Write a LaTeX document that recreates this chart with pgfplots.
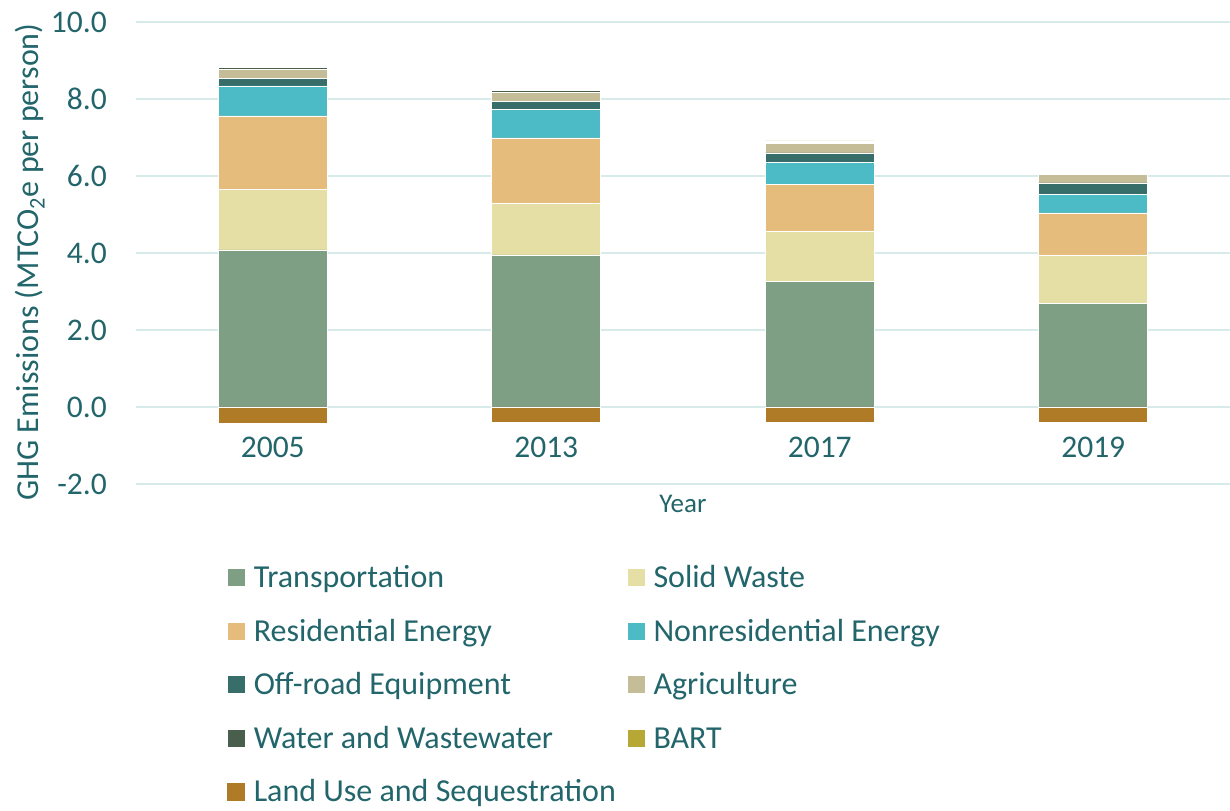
\documentclass[border=0pt]{standalone}
\usepackage{fontspec}
\setmainfont{Carlito}
\usepackage{pgfplots}
\pgfplotsset{compat=1.18}
\definecolor{txt}{HTML}{22656A}
\definecolor{gridc}{HTML}{D8EBEB}
\definecolor{transp}{HTML}{7F9F84}
\definecolor{solid}{HTML}{E5DFA5}
\definecolor{resid}{HTML}{E5BC7B}
\definecolor{nonres}{HTML}{4DBBC5}
\definecolor{offroad}{HTML}{386E6A}
\definecolor{agri}{HTML}{C5BD98}
\definecolor{water}{HTML}{4A5E4E}
\definecolor{bart}{HTML}{B7A734}
\definecolor{landuse}{HTML}{B07B26}

\pgfplotsset{
  common/.style={
    at={(136bp,327bp)}, anchor=south west,
    scale only axis, width=1094bp, height=462bp,
    xmin=-0.5, xmax=3.5, ymin=-2, ymax=10,
    bar width=109bp,
  },
  sq/.style={legend image code/.code={\fill[##1] (0bp,1bp) rectangle (18bp,19bp);}},
}
\newcommand{\cw}[1]{\makebox[373bp][l]{#1}}

\begin{document}
\begin{tikzpicture}
\begin{axis}[common,
  ybar stacked,
  axis line style={draw=none}, major tick length=0,
  xtick={0,1,2,3}, xticklabels={2005,2013,2017,2019},
  ytick={-2,0,2,4,6,8,10},
  yticklabels={-2.0,0.0,2.0,4.0,6.0,8.0,10.0},
  tick label style={font=\fontsize{31.5bp}{36bp}\selectfont, text=txt, inner sep=0},
  yticklabel style={anchor=east, xshift=-29bp},
  xticklabel style={anchor=center, yshift=37bp},
  ymajorgrids, grid style={color=gridc, line width=1.5bp},
  ylabel={GHG Emissions (MTCO\textsubscript{2}e per person)},
  every axis y label/.style={at={(axis description cs:-0.097,0.48)}, rotate=90, anchor=center,
    font=\fontsize{32bp}{38bp}\selectfont, text=txt},
  xlabel={Year},
  every axis x label/.style={at={(axis description cs:0.5,-0.0433)}, anchor=center,
    font=\fontsize{27bp}{32bp}\selectfont, text=txt},
  every axis plot/.append style={draw=white, line width=0.75bp},
  legend columns=2,
  legend style={at={(axis description cs:0.0832,-0.175)}, anchor=north west,
    draw=none, fill=none, inner sep=0pt, outer sep=0pt, row sep=22.5bp,
    font=\fontsize{32bp}{38bp}\selectfont, text=txt,
    nodes={inner sep=0pt, anchor=base west, text height=23bp, text depth=8bp},
    /tikz/every odd column/.append style={column sep=8bp}},
]
\addplot[fill=transp, sq] coordinates {(0,4.08)(1,3.95)(2,3.27)(3,2.68)};
\addplot[fill=solid, sq] coordinates {(0,1.58)(1,1.35)(2,1.30)(3,1.27)};
\addplot[fill=resid, sq] coordinates {(0,1.90)(1,1.69)(2,1.22)(3,1.09)};
\addplot[fill=nonres, sq] coordinates {(0,0.78)(1,0.75)(2,0.57)(3,0.48)};
\addplot[fill=offroad, sq] coordinates {(0,0.20)(1,0.19)(2,0.24)(3,0.30)};
\addplot[fill=agri, sq] coordinates {(0,0.22)(1,0.25)(2,0.25)(3,0.21)};
\addplot[fill=water, sq] coordinates {(0,0.05)(1,0.05)(2,0.03)(3,0.03)};
\addplot[fill=bart, sq] coordinates {(0,0.03)(1,0.02)(2,0.03)(3,0.03)};
\addlegendimage{sq, fill=landuse, draw=none}
\legend{\cw{Transportation}, Solid Waste, \cw{Residential Energy}, Nonresidential Energy,
  \cw{Off-road Equipment}, Agriculture, \cw{Water and Wastewater}, BART,
  \cw{Land Use and Sequestration}}
\end{axis}
\begin{axis}[common, ybar, hide axis]
\addplot[fill=landuse, draw=white, line width=0.75bp] coordinates {(0,-0.43)(1,-0.40)(2,-0.40)(3,-0.40)};
\end{axis}
\pgfresetboundingbox
\useasboundingbox (0,0) rectangle (1230bp,811bp);
\end{tikzpicture}
\end{document}
